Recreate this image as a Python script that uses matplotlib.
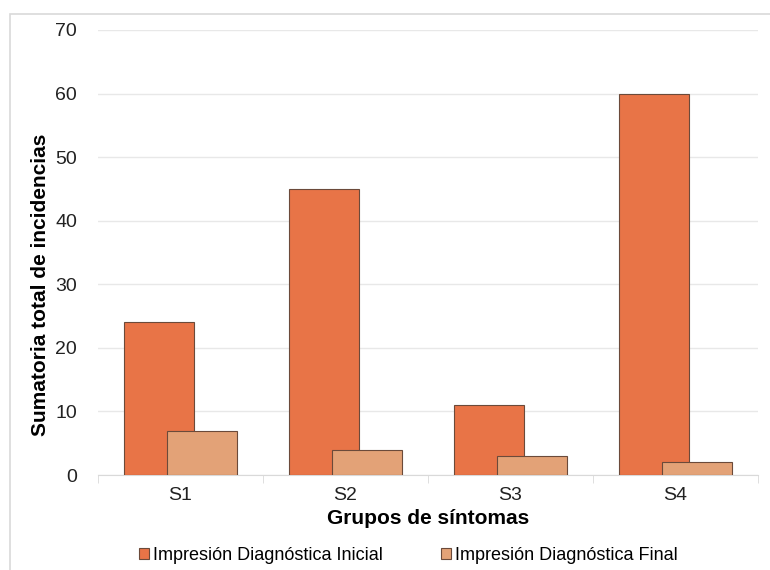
import numpy as np
import matplotlib.pyplot as plt
from matplotlib.patches import Rectangle

plt.rcParams['font.family'] = ['Liberation Sans', 'DejaVu Sans']

grupos = ['S1', 'S2', 'S3', 'S4']
inicial = [24, 45, 11, 60]
final = [7, 4, 3, 2]

fig = plt.figure(figsize=(7.7, 5.7), dpi=100)
ax = fig.add_axes([98/770, 95/570, 660/770, 445/570])

# marco exterior del grafico
fig.patches.append(Rectangle((10/770, -0.1), 1.1, 1 - 14/570 + 0.1, transform=fig.transFigure,
                             fill=False, edgecolor='#d9d9d9', linewidth=1.2))

x = np.arange(len(grupos))
w = 0.424
ax.bar(x - 0.13, inicial, w, color='#E87447', edgecolor='#6b4a3a', linewidth=0.8,
       label='Impresión Diagnóstica Inicial', zorder=3)
ax.bar(x + 0.13, final, w, color='#E3A277', edgecolor='#6b4a3a', linewidth=0.8,
       label='Impresión Diagnóstica Final', zorder=4)

ax.set_xlim(-0.5, 3.5)
ax.set_ylim(0, 70)
ax.set_yticks(range(0, 71, 10))
ax.set_xticks(x)
ax.set_xticklabels(grupos)
ax.set_xticks(np.arange(-0.5, 4, 1), minor=True)
ax.tick_params(axis='x', which='major', length=0, labelsize=14, colors='#222222', pad=9)
ax.tick_params(axis='x', which='minor', length=6, color='#d9d9d9')
ax.tick_params(axis='y', length=0, labelsize=14, colors='#222222', pad=15)
ax.grid(axis='y', color='#e8e8e8', linewidth=1, zorder=0)
for s in ['top', 'right', 'left']:
    ax.spines[s].set_visible(False)
ax.spines['bottom'].set_color('#d9d9d9')

ax.set_xlabel('Grupos de síntomas', fontsize=15, fontweight='bold', labelpad=3)
ax.set_ylabel('Sumatoria total de incidencias', fontsize=15, fontweight='bold')
ax.yaxis.set_label_coords(-0.072, 0.427)

ax.legend(loc='upper center', bbox_to_anchor=(0.47, -0.125), ncol=2, frameon=False,
          fontsize=13, handlelength=0.6, handleheight=0.6, handletextpad=0.2, columnspacing=3.2)

plt.savefig('out.png', dpi=100)
